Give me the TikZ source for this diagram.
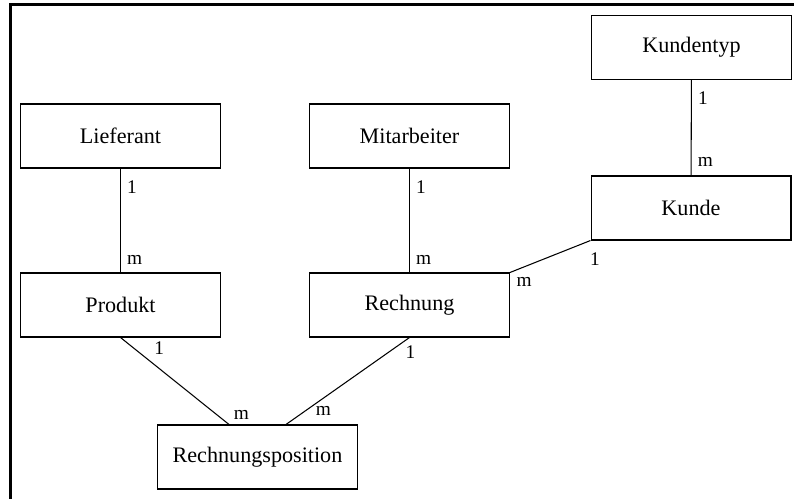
\documentclass[tikz,border=0pt]{standalone}
\usepackage{fontspec}
\setmainfont{Liberation Serif}
\usetikzlibrary{positioning}

\begin{document}
\begin{tikzpicture}[
  x=0.02cm,y=-0.02cm,
  ent/.style={rectangle,draw=black,line width=0.6pt,minimum width=4cm,minimum height=1.28cm,
              font=\fontsize{12.6}{15}\selectfont},
  rel/.style={draw=black,line width=0.6pt},
  card/.style={font=\fontsize{11}{13}\selectfont,inner sep=2.5pt}
]
\useasboundingbox (0,0) rectangle (794,499);
\draw[line width=1.7pt] (10.5,499) -- (10.5,5) -- (794,5);

\node[ent] (lief) at (120.5,136) {Lieferant};
\node[ent] (mita) at (409.5,136) {Mitarbeiter};
\node[ent] (ktyp) at (691.5,47.5) {Kundentyp};
\node[ent] (kund) at (691,208)   {Kunde};
\node[ent] (prod) at (120.5,305) {Produkt};
\node[ent] (rech) at (409.5,305) {Rechnung};
\node[ent] (rpos) at (257.5,457) {Rechnungsposition};

\draw[rel] (lief) -- node[card,pos=0.18,right,xshift=1pt]{1} node[card,pos=0.88,right,xshift=1pt]{m} (prod);
\draw[rel] (mita) -- node[card,pos=0.18,right,xshift=1pt]{1} node[card,pos=0.88,right,xshift=1pt]{m} (rech);
\draw[rel] (ktyp) -- node[card,pos=0.19,right,xshift=1pt]{1} node[card,pos=0.86,right,xshift=1pt]{m} (kund);
\draw[rel] (kund.south west) -- node[card,pos=0,below,xshift=2.5pt,yshift=-4pt]{1} node[card,pos=1,below right,xshift=1pt]{m} (rech.north east);
\draw[rel] (prod.south) -- node[card,pos=0.25,above right,xshift=1pt]{1} node[card,pos=1,above right]{m} ([xshift=-0.57cm]rpos.north);
\draw[rel] (rech.south) -- node[card,pos=0,below,xshift=0.5pt,yshift=-2pt]{1} node[card,pos=0.84,right,xshift=3pt]{m} ([xshift=0.57cm]rpos.north);
\end{tikzpicture}
\end{document}
